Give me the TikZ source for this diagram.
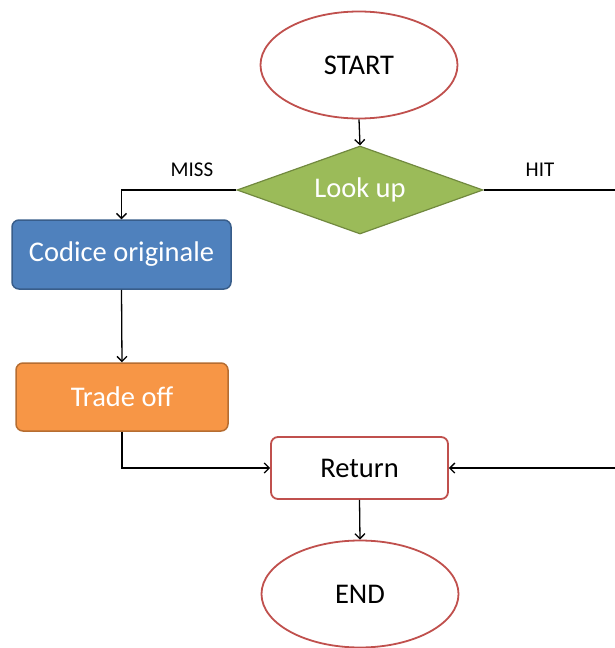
\documentclass[tikz,border=0pt]{standalone}
\usepackage{fontspec}
\setmainfont{Carlito}
\usetikzlibrary{shapes.geometric,arrows.meta}
\definecolor{termred}{HTML}{C0504D}
\definecolor{lookgreen}{HTML}{9BBB59}
\definecolor{lookgreenb}{HTML}{71893F}
\definecolor{codblue}{HTML}{4F81BD}
\definecolor{codblueb}{HTML}{385D8A}
\definecolor{trorange}{HTML}{F79646}
\definecolor{trorangeb}{HTML}{B66D31}
\tikzset{
  mainfont/.style={font=\fontsize{28.5}{32}\selectfont},
  terminal/.style={ellipse, draw=termred, line width=1.8pt, fill=white,
    minimum width=197pt, minimum height=107pt, inner sep=0pt, mainfont},
  decision/.style={diamond, draw=lookgreenb, line width=1.2pt, fill=lookgreen, aspect=2.8,
    minimum width=246pt, minimum height=88pt, inner sep=0pt, text=white, mainfont},
  procbox/.style={rectangle, rounded corners=7pt, line width=1.5pt, inner sep=0pt,
    text=white, mainfont},
  retbox/.style={rectangle, rounded corners=7pt, draw=termred, line width=1.8pt, fill=white,
    minimum width=177pt, minimum height=62pt, inner sep=0pt, mainfont},
  conn/.style={line width=1.3pt, -{Straight Barb[length=5pt,width=10pt,line width=1.3pt]}},
  plainconn/.style={line width=1.3pt},
  edgelabel/.style={font=\fontsize{21}{24}\selectfont}
}
\begin{document}
\begin{tikzpicture}[x=1pt,y=-1pt]
\useasboundingbox (0,0) rectangle (615,648);
% shapes
\node[terminal] (start) at (359,65) {START};
\node[decision] (look) at (360,190) {Look up};
\node[procbox, fill=codblue, draw=codblueb, minimum width=219pt, minimum height=69pt] (cod) at (121.5,254.5) {Codice originale};
\node[procbox, fill=trorange, draw=trorangeb, minimum width=212pt, minimum height=68pt] (trade) at (122,397) {Trade off};
\node[retbox] (ret) at (359.5,468) {Return};
\node[terminal] (end) at (360,594) {END};
% right edge ends of the HIT branch
\coordinate (hitout) at (615,190);
\coordinate (hitin) at (615,468);
% connectors
\draw[conn] (start.south) -- (look.north);
\draw[conn] (look.west) -| (cod.north);
\draw[plainconn] (look.east) -- (hitout);
\draw[conn] (hitin) -- (ret.east);
\draw[conn] (cod.south) -- (trade.north);
\draw[conn] (trade.south) |- (ret.west);
\draw[conn] (ret.south) -- (end.north);
% branch labels
\node[edgelabel] (misslbl) at (192,170) {MISS};
\node[edgelabel] (hitlbl) at (540,170) {HIT};
\end{tikzpicture}
\end{document}
